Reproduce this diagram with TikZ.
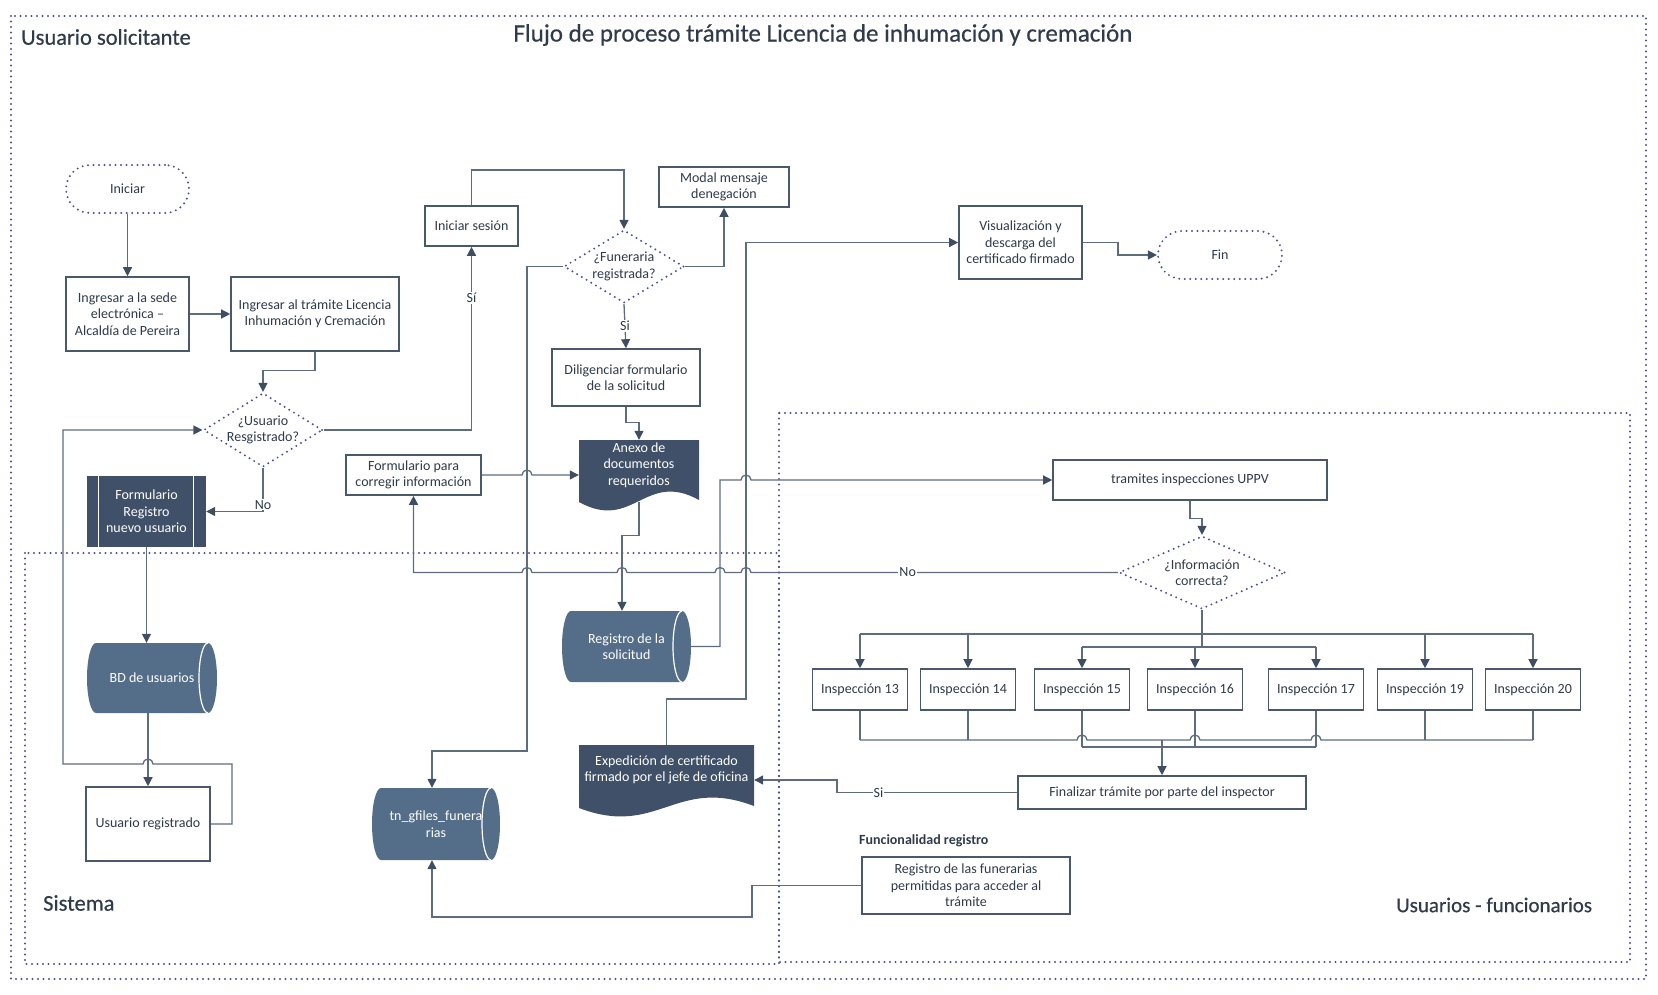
\documentclass[tikz,border=0pt]{standalone}
\usepackage{fontspec}
\setmainfont{Carlito}
\newfontfamily\medfont[FakeBold=0.4]{Carlito}
\usetikzlibrary{arrows.meta,shapes.geometric,calc}
\definecolor{boxc}{HTML}{4A586B}
\definecolor{linec}{HTML}{5E6C80}
\definecolor{arrc}{HTML}{3F4E63}
\definecolor{dotc}{HTML}{4C4F99}
\definecolor{darkc}{HTML}{3F5068}
\definecolor{cylc}{HTML}{546E8A}
\definecolor{textc}{HTML}{2F3A4A}
\newcommand\bfnt{\fontsize{14}{16.5}\selectfont}
\newcommand\cylshape[4]{%
  \fill[cylc] (#1-#3+9,#2-#4) arc[start angle=90,end angle=270,x radius=9pt,y radius=#4pt]
    -- (#1+#3-9,#2+#4) arc[start angle=270,end angle=450,x radius=9pt,y radius=#4pt] -- cycle;
  \draw[white,line width=1.2pt] (#1+#3-9,#2-#4) arc[start angle=90,end angle=270,x radius=9pt,y radius=#4pt];
}
% L T R Bleft Bright
\newcommand\docshape[5]{%
  \fill[darkc] (#1,#2) -- (#3,#2) -- (#3,#5) .. controls ({#1+0.55*(#3-#1)},#5-30) and ({#1+0.45*(#3-#1)},#4+30) .. (#1,#4) -- cycle;
}
\tikzset{
  box/.style={draw=boxc, line width=1.6pt, fill=white, align=center, text=textc, font=\bfnt, inner sep=1pt},
  dotline/.style={draw=dotc, line width=2.2pt, line cap=round, dash pattern=on 0pt off 5.5pt},
  dia/.style={diamond, dotline, inner sep=0pt},
  stad/.style={dotline, rounded corners=24pt, text=textc, font=\bfnt},
  conn/.style={draw=linec, line width=1.3pt},
  arr/.style={conn, -{Triangle[length=9pt,width=9pt,color=arrc]}},
  lab/.style={fill=white, inner sep=1pt, text=textc, font=\bfnt},
  txt/.style={align=center, text=textc, font=\bfnt, inner sep=0pt},
  wtxt/.style={align=center, text=white, font=\bfnt, inner sep=0pt},
  insp/.style={box, minimum width=95, minimum height=41},
  lane/.style={text=textc, font=\medfont\fontsize{22.5}{26}\selectfont, anchor=west, inner sep=0pt},
}
\begin{document}
\begin{tikzpicture}[x=1pt,y=-1pt]
\useasboundingbox (0,0) rectangle (1658,995);
% lanes
\draw[dotline] (11,16) rectangle (1646,979);
\draw[dotline] (25,553) rectangle (779,964);
\draw[dotline] (779,413) rectangle (1630,962);
\node[lane] (lane1) at (21,37) {Usuario solicitante};
\node[text=textc, font=\medfont\fontsize{25}{28}\selectfont, inner sep=0pt] (title) at (823,35) {Flujo de proceso trámite Licencia de inhumación y cremación};
\node[lane] (lane2) at (43,903) {Sistema};
\node[lane, font=\medfont\fontsize{21}{24}\selectfont] (lane3) at (1396,905) {Usuarios - funcionarios};

% shapes drawn underneath
\cylshape{152}{678}{65}{35}
\cylshape{626.5}{646.5}{64.5}{35.5}
\cylshape{436}{824}{64}{36}
\docshape{579}{440}{699}{502}{500}
\docshape{579}{745}{754}{808}{806}

% nodes
\node[stad, minimum width=123, minimum height=48] (ini) at (127.5,189) {Iniciar};
\node[box, minimum width=123, minimum height=74] (sede) at (127.5,314) {Ingresar a la sede\\electrónica –\\Alcaldía de Pereira};
\node[box, minimum width=168, minimum height=74] (tram) at (315,314) {Ingresar al trámite Licencia\\Inhumación y Cremación};
\node[dia, minimum width=119, minimum height=74] (usr) at (263,430) {};
\node[txt] (usrt) at (263,430) {¿Usuario\\Resgistrado?};
\node[wtxt, fill=darkc, minimum width=119, minimum height=71] (frm) at (146.5,511.5) {Formulario\\Registro\\nuevo usuario};
\draw[white, line width=1.3pt] ($(frm.north west)+(12,0)$) -- ($(frm.south west)+(12,0)$);
\draw[white, line width=1.3pt] ($(frm.north east)+(-13,0)$) -- ($(frm.south east)+(-13,0)$);
\node[wtxt, minimum width=130, minimum height=70] (bdu) at (152,678) {BD de usuarios};
\node[box, minimum width=124, minimum height=74] (ureg) at (148,824) {Usuario registrado};
\node[box, minimum width=93, minimum height=40] (ses) at (471.5,226) {Iniciar sesión};
\node[dia, minimum width=120, minimum height=73] (fun) at (624,266.5) {};
\node[txt] (funt) at (624,266.5) {¿Funeraria\\registrada?};
\node[box, minimum width=130, minimum height=40] (mod) at (724,187) {Modal mensaje\\denegación};
\node[box, minimum width=148, minimum height=57] (dil) at (626,377.5) {Diligenciar formulario\\de la solicitud};
\node[minimum width=120, minimum height=62, inner sep=0pt] (anx) at (639,471) {};
\node[wtxt] (anxt) at (639,465) {Anexo de\\documentos\\requeridos};
\node[box, minimum width=135, minimum height=40] (fcor) at (413.5,475) {Formulario para\\corregir información};
\node[wtxt, minimum width=129, minimum height=71] (reg) at (626.5,646.5) {Registro de la\\solicitud};
\node[wtxt, minimum width=128, minimum height=72] (tng) at (436,824) {tn\_gfiles\_funera\\rias};
\node[minimum width=175, minimum height=63, inner sep=0pt] (exp) at (666.5,776.5) {};
\node[wtxt] (expt) at (666.5,770) {Expedición de certificado\\firmado por el jefe de oficina};
\node[box, minimum width=123, minimum height=73] (vis) at (1020.5,242.5) {Visualización y\\descarga del\\certificado firmado};
\node[stad, minimum width=124, minimum height=48] (fin) at (1220,255) {Fin};
\node[box, minimum width=274, minimum height=40] (tri) at (1190,480) {tramites inspecciones UPPV};
\node[dia, minimum width=166, minimum height=73] (inf) at (1202,572.5) {};
\node[txt] (inft) at (1202,572.5) {¿Información\\correcta?};
\node[insp] (i13) at (860,689.5) {Inspección 13};
\node[insp] (i14) at (968,689.5) {Inspección 14};
\node[insp] (i15) at (1082,689.5) {Inspección 15};
\node[insp] (i16) at (1195,689.5) {Inspección 16};
\node[insp] (i17) at (1316,689.5) {Inspección 17};
\node[insp] (i19) at (1425,689.5) {Inspección 19};
\node[insp] (i20) at (1533,689.5) {Inspección 20};
\node[box, minimum width=288, minimum height=33] (fin2) at (1162,792.5) {Finalizar trámite por parte del inspector};
\node[text=textc, font=\fontsize{14}{16}\selectfont\bfseries, anchor=west, inner sep=0pt] (fnl) at (859,841) {Funcionalidad registro};
\node[box, minimum width=208, minimum height=57] (rfun) at (966,885.5) {Registro de las funerarias\\permitidas para acceder al\\trámite};

\coordinate (bus1) at (0,634);
\coordinate (bus2) at (0,647);
\coordinate (bus3) at (0,740);
\coordinate (bus4) at (0,747);

% connectors
\draw[arr] (ini.south) -- (ini.south |- sede.north);
\draw[arr] (sede.east) -- (tram.west);
\draw[arr] (tram.south) -- ++(0,19) -| (usr.north);
\draw[arr] (usr.east) -| node[lab,pos=0.86] {Sí} (ses.south);
\draw[arr] (usr.south) |- node[lab,pos=0.42] {No} (frm.east);
\draw[arr] (frm.south) -- (frm.south |- bdu.north);
\draw[arr] (ureg.north |- bdu.south) -- (ureg.north);
\draw[arr] (ureg.east) -| (232,764) -- (153,764) arc[start angle=0,end angle=180,radius=5pt] -- (63,764) |- (usr.west);
\draw[arr] (ses.north) -- (471.5,170) -| (fun.north);
\draw[arr] (fun.east) -| (mod.south);
\draw[arr] (fun.west) -- (527,266.5) -- (527,751) -| ($(tng.north)+(-4,0)$);
\draw[arr] (fun.south) -- node[lab] {Si} (dil.north);
\draw[arr] (dil.south) -- ++(0,16) -| (anx.north);
\draw[arr] (fcor.east) -- (522,475) arc[start angle=180,end angle=0,radius=5pt] -- (fcor.east -| anx.west);
\draw[arr] (anx.south) -- ++(0,33) -| ($(reg.north)+(-4.5,0)$);
\draw[arr] ($(reg.east)+(-9,0)$) -- (720,646.5) -- (720,480) -- (741,480) arc[start angle=180,end angle=0,radius=5pt] -- (tri.west);
\draw[arr] (exp.north) -- (666.5,699) -- (746,699) |- (vis.west);
\draw[arr] (vis.east) -- (1118,242.5) |- (fin.west);
\draw[arr] (tri.south) -- ++(0,18) -| (inf.north);
\draw[arr] (inf.west) -- node[lab,pos=0.573] {No} (751,572.5) arc[start angle=0,end angle=180,radius=5pt]
  -- (725,572.5) arc[start angle=0,end angle=180,radius=5pt]
  -- (627,572.5) arc[start angle=0,end angle=180,radius=5pt]
  -- (532,572.5) arc[start angle=0,end angle=180,radius=5pt]
  -| (fcor.south);
% inspections fan-out
\draw[conn] (inf.south) -- (inf.south |- bus2);
\draw[conn] (i13.north |- bus1) -- (i20.north |- bus1);
\draw[conn] (i15.north |- bus2) -- (i17.north |- bus2);
\foreach \n in {i13,i14,i19,i20} {\draw[arr] (\n.north |- bus1) -- (\n.north);}
\foreach \n in {i15,i16,i17} {\draw[arr] (\n.north |- bus2) -- (\n.north);}
% fan-in
\foreach \n in {i13,i14,i19,i20} {\draw[conn] (\n.south) -- (\n.south |- bus3);}
\foreach \n in {i15,i16,i17} {\draw[conn] (\n.south) -- (\n.south |- bus4);}
\draw[conn] (i13.south |- bus3) -- (1077,740) arc[start angle=180,end angle=0,radius=5pt]
  -- (1190,740) arc[start angle=180,end angle=0,radius=5pt]
  -- (1311,740) arc[start angle=180,end angle=0,radius=5pt] -- (i20.south |- bus3);
\draw[conn] (i15.south |- bus4) -- (i17.south |- bus4);
\draw[arr] (fin2.north |- bus3) -- (fin2.north);
\draw[arr] (fin2.west) -- node[lab,pos=0.77] {Si} (837,792.5) |- ($(exp.east)+(0,3.5)$);
\draw[arr] (rfun.west) -| (752,917) -| ($(tng.south)+(-4,0)$);
\end{tikzpicture}
\end{document}
